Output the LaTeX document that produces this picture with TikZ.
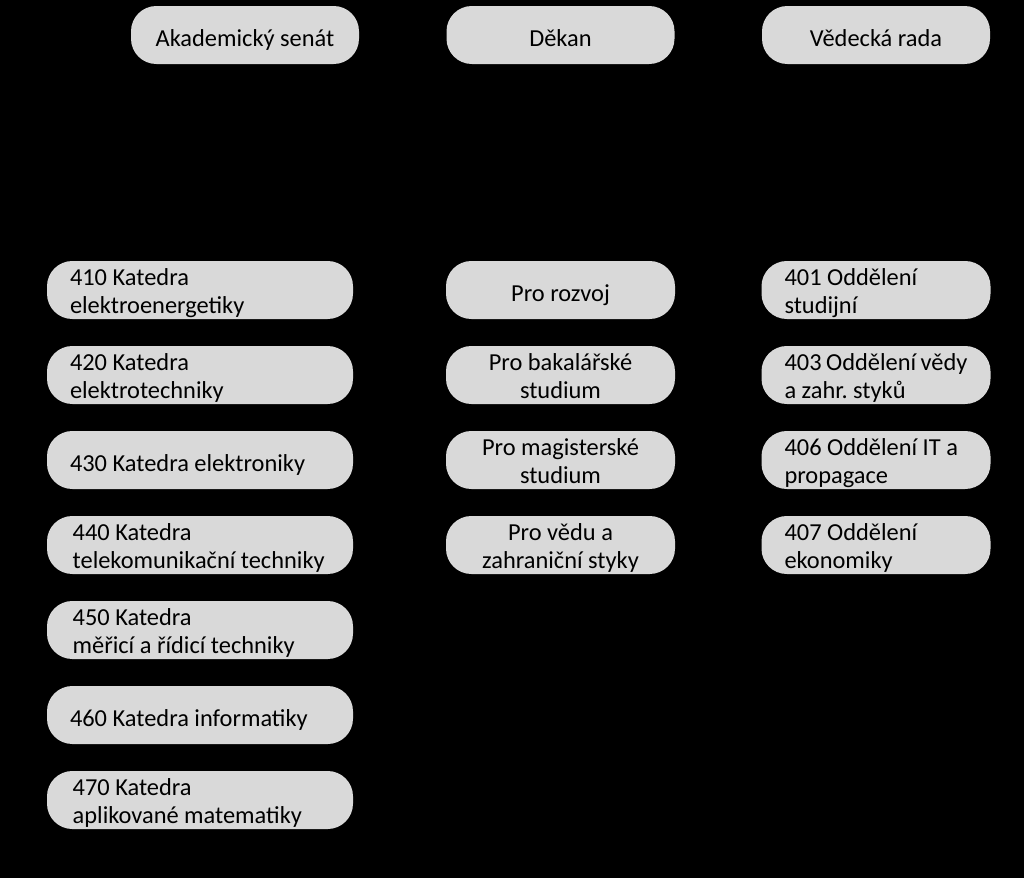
\documentclass[tikz,border=0pt]{standalone}
\usepackage{fontspec}
\setmainfont{Carlito}
\definecolor{boxgray}{HTML}{D9D9D9}
\newcommand\boxfont{\fontsize{18.3}{21}\selectfont\hyphenpenalty=10000\relax}
\tikzset{
    unit/.style={fill=boxgray, rounded corners=19pt, minimum height=43.5pt,
        inner ysep=0pt, font=\boxfont},
    one/.style={text height=20.5pt, text depth=4pt},
    two/.style={text height=17.5pt, text depth=25pt},
    headbox/.style={unit, one, minimum width=171pt, align=center},
    katbox/.style={unit, text width=195pt, inner xsep=17.25pt, align=flush left},
    prodbox/.style={unit, text width=155.75pt, inner xsep=8pt, align=flush center},
    oddbox/.style={unit, two, text width=137.25pt, inner xsep=17.25pt, align=flush left}
}
\begin{document}
\begin{tikzpicture}[x=0.75pt, y=-0.75pt]
        \fill[black] (0,0) rectangle (1024,878);
        \useasboundingbox (0,0) rectangle (1024,878);

        % vedeni
        \node[headbox] (senat)   at (245,35)   {Akademický senát};
        \node[headbox] (dekan)   at (560.5,35) {Děkan};
        \node[headbox] (vedrada) at (876,35)   {Vědecká rada};

        % katedry
        \foreach \n/\s/\t [count=\i from 0] in {
            410/two/{410 Katedra\\elektroenergetiky},
            420/two/{420 Katedra\\elektrotechniky},
            430/one/{430 Katedra elektroniky},
            440/two/{\hspace*{2pt}440 Katedra\\\hspace*{2pt}telekomunikační techniky},
            450/two/{\hspace*{2pt}450 Katedra\\\hspace*{2pt}měřicí a řídicí techniky},
            460/one/{460 Katedra informatiky},
            470/two/{\hspace*{2pt}470 Katedra\\\hspace*{2pt}aplikované matematiky}}
        {
            \node[katbox,\s] (k\n) at (200,290+85*\i) {\t};
        }

        % prodekani
        \foreach \s/\t [count=\i from 0] in {
            one/{Pro rozvoj},
            two/{Pro bakalářské\\studium},
            two/{Pro magisterské\\studium},
            two/{Pro vědu a\\zahraniční styky}}
        {
            \node[prodbox,\s] (pro\i) at (560.5,290+85*\i) {\t};
        }

        % oddeleni
        \foreach \n/\t [count=\i from 0] in {
            401/{401~Oddělení\\studijní},
            403/{403~Oddělení~vědy\\a~zahr.~styků},
            406/{406~Oddělení~IT~a\\propagace},
            407/{407~Oddělení\\ekonomiky}}
        {
            \node[oddbox] (o\n) at (876,290+85*\i) {\t};
        }
\end{tikzpicture}
\end{document}
